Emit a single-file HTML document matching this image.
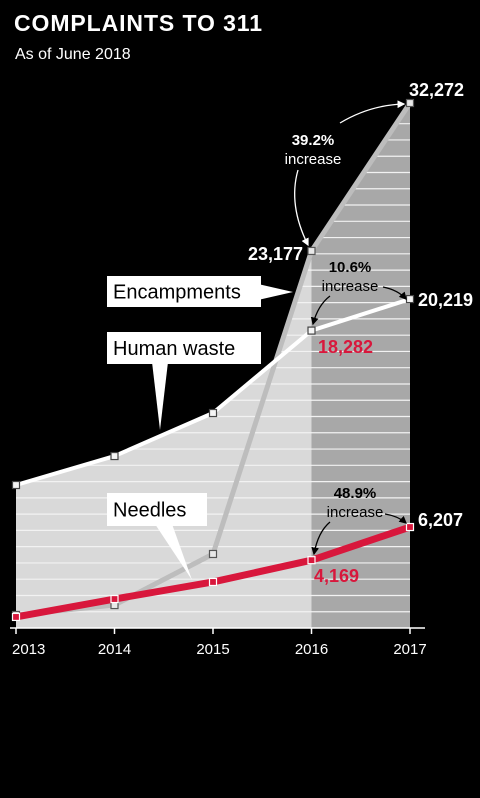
<!DOCTYPE html>
<html><head><meta charset="utf-8"><style>
html,body{margin:0;padding:0;background:#000;}
svg{display:block;font-family:"Liberation Sans",sans-serif;}
</style></head><body>
<svg id="chart" width="480" height="798" viewBox="0 0 480 798" xmlns="http://www.w3.org/2000/svg">
<rect width="480" height="798" fill="#000"/>
<text x="14" y="31" fill="#fff" font-size="23" font-weight="bold" textLength="248">COMPLAINTS TO 311</text>
<text x="15" y="59" fill="#fff" font-size="16">As of June 2018</text>
<g id="plot"></g>
</svg>
<script>
const years = ['2013','2014','2015','2016','2017'];
const humanWaste = [8790, 10570, 13215, 18282, 20219];
const encampments = [800, 1410, 4550, 23177, 32272];
const needles = [680, 1780, 2830, 4169, 6207];
const gridStep = 1000;

const NS = 'http://www.w3.org/2000/svg';
const plot = document.getElementById('plot');
const x0 = 16, x1 = 410, yBase = 628, yTop = 103, vTop = 32272;
function xs(i){ return x0 + (x1 - x0) * i / (years.length - 1); }
function ys(v){ return yBase - (yBase - yTop) * v / vTop; }
function mk(tag, attrs, parent){
  const e = document.createElementNS(NS, tag);
  for (const k in attrs) e.setAttribute(k, attrs[k]);
  (parent || plot).appendChild(e);
  return e;
}
function pts(arr){ return arr.map((v,i)=>xs(i)+','+ys(v)).join(' '); }
function areaPts(arr){ return xs(0)+','+yBase+' '+pts(arr)+' '+xs(arr.length-1)+','+yBase; }

const defs = mk('defs', {});
const cp = mk('clipPath', {id:'areaClip'}, defs);
mk('polygon', {points: areaPts(humanWaste)}, cp);
mk('polygon', {points: areaPts(encampments)}, cp);

const area = mk('g', {'clip-path':'url(#areaClip)'});


mk('rect', {x:x0, y:0, width:x1-x0, height:yBase, fill:'#d9d9d9'}, area);
mk('rect', {x:xs(3), y:0, width:xs(4)-xs(3), height:yBase, fill:'#a8a8a8'}, area);
for (let v = gridStep; v < vTop; v += gridStep){
  const gl = mk('line', {x1:x0, x2:x1, y1:ys(v), y2:ys(v), stroke:'#f2f2f2', 'stroke-width':1.2}, area);
  
  
}

const ax = mk('line', {x1:10, x2:425, y1:yBase, y2:yBase, stroke:'#fff', 'stroke-width':1.5});


years.forEach((y,i)=>{
  mk('line', {x1:xs(i), x2:xs(i), y1:yBase, y2:yBase+6, stroke:'#fff', 'stroke-width':1.5});
  const t = mk('text', {x: i===0 ? 12 : xs(i), y:654, fill:'#fff', 'font-size':15, 'text-anchor': i===0 ? 'start' : 'middle'});
  
  
  t.textContent = y;
});

function series(arr, color, w, name, mFill, mStroke){
  const l = mk('polyline', {points: pts(arr), fill:'none', stroke:color, 'stroke-width':w, 'stroke-linejoin':'round'});
  
  
  arr.forEach((v,i)=>{
    const m = mk('rect', {x:xs(i)-3.5, y:ys(v)-3.5, width:7, height:7, fill:mFill, stroke:mStroke, 'stroke-width':1.2});
    
    
  });
}
series(encampments, '#bdbdbd', 5, 'encampments', '#e8e8e8', '#555');
series(humanWaste, '#ffffff', 4, 'human-waste', '#f5f5f5', '#444');
series(needles, '#d8173c', 7, 'needles', '#d8173c', '#fff');

function callout(x, y, w, h, text, tip, base, name){
  const g = mk('g', {});
  
  
  mk('polygon', {points: base[0]+' '+base[1]+' '+tip[0]+','+tip[1]}, g).setAttribute('fill','#fff');
  mk('rect', {x:x, y:y, width:w, height:h, fill:'#fff'}, g);
  const t = mk('text', {x:x+6, y:y+h/2+7, 'font-size':20, fill:'#000'}, g);
  t.textContent = text;
}
callout(107, 276, 154, 31, 'Encampments', [293,292], ['258,284', '258,300'], 'encampments-label');
callout(107, 332, 154, 32, 'Human waste', [160,430], ['152,362', '168,362'], 'human-waste-label');
callout(107, 493, 100, 33, 'Needles', [192,580], ['155,524', '172,524'], 'needles-label');

function label(x, y, txt, color, size, bold, anchor, name){
  const t = mk('text', {x:x, y:y, fill:color, 'font-size':size, 'font-weight':bold?'bold':'normal', 'text-anchor':anchor||'start'});
  
  
  t.textContent = txt;
  return t;
}
label(409, 96, '32,272', '#fff', 18, true, 'start', 'value-encampments-2017');
label(303, 260, '23,177', '#fff', 18, true, 'end', 'value-encampments-2016');
label(418, 306, '20,219', '#fff', 18, true, 'start', 'value-human-waste-2017');
label(318, 353, '18,282', '#d8173c', 18, true, 'start', 'value-human-waste-2016');
label(418, 526, '6,207', '#fff', 18, true, 'start', 'value-needles-2017');
label(314, 582, '4,169', '#d8173c', 18, true, 'start', 'value-needles-2016');

label(313, 145, '39.2%', '#fff', 15, true, 'middle', 'annotation-encampments-pct');
label(313, 164, 'increase', '#fff', 15, false, 'middle', 'annotation-encampments-increase');
label(350, 272, '10.6%', '#000', 15, true, 'middle', 'annotation-human-waste-pct');
label(350, 291, 'increase', '#000', 15, false, 'middle', 'annotation-human-waste-increase');
label(355, 498, '48.9%', '#000', 15, true, 'middle', 'annotation-needles-pct');
label(355, 517, 'increase', '#000', 15, false, 'middle', 'annotation-needles-increase');

mk('defs', {}).innerHTML = '<marker id="ahw" markerWidth="6" markerHeight="6" refX="5" refY="3" orient="auto"><path d="M0,0 L6,3 L0,6z" fill="#fff"/></marker><marker id="ahb" markerWidth="6" markerHeight="6" refX="5" refY="3" orient="auto"><path d="M0,0 L6,3 L0,6z" fill="#000"/></marker>';
function arrow(d, col, name){
  const p = mk('path', {d:d, fill:'none', stroke:col, 'stroke-width':1.3, 'marker-end':'url(#'+(col==='#fff'?'ahw':'ahb')+')'});
  
  
}
arrow('M340,123 Q370,105 404,104', '#fff', 'arrow-to-32272');
arrow('M298,170 Q288,205 308,245', '#fff', 'arrow-to-23177');
arrow('M330,296 Q318,305 313,324', '#000', 'arrow-to-18282');
arrow('M383,287 Q398,290 406,299', '#000', 'arrow-to-20219');
arrow('M330,522 Q318,532 314,554', '#000', 'arrow-to-4169');
arrow('M385,514 Q398,516 406,523', '#000', 'arrow-to-6207');
</script>
</body></html>
